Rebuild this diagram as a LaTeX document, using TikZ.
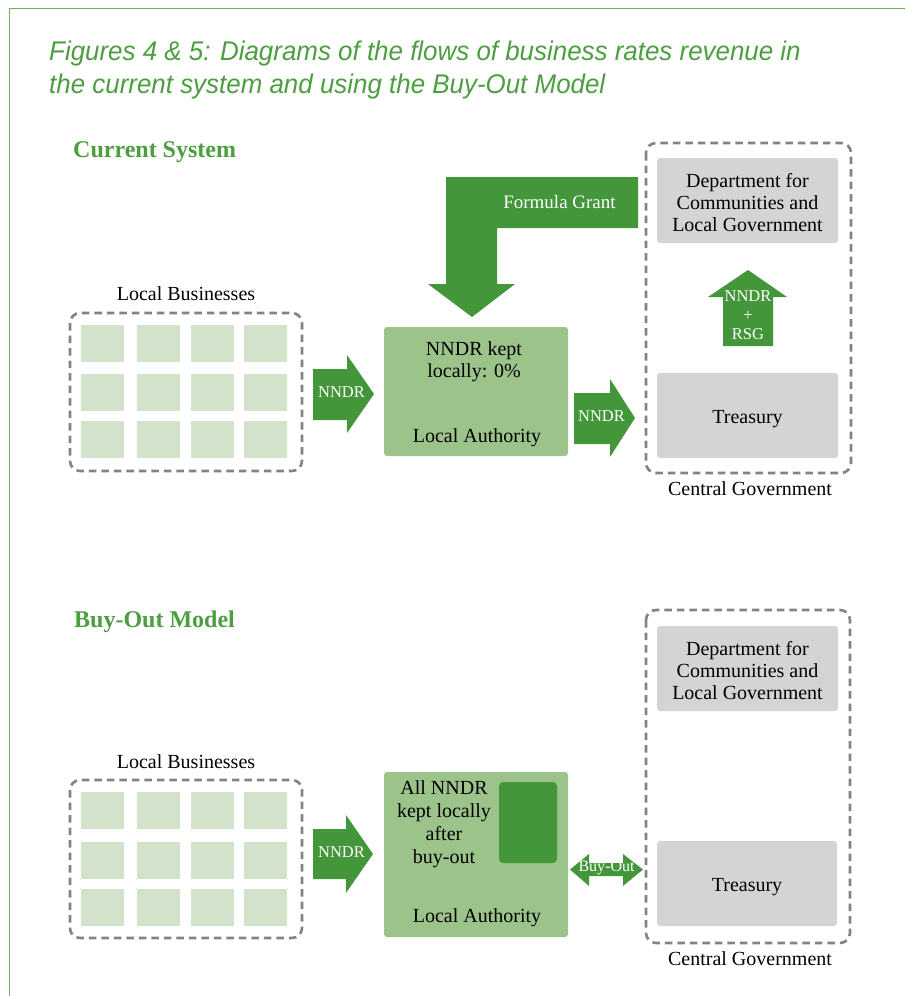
\documentclass[tikz,border=0pt]{standalone}
\usepackage{fontspec}
\setmainfont{Liberation Serif}
\newfontfamily\captionfont[FakeStretch=0.96]{Liberation Sans}

\definecolor{titlegreen}{HTML}{4C9E40}
\definecolor{flowgreen}{HTML}{43963A}
\definecolor{lagreen}{HTML}{9BC38A}
\definecolor{firmgreen}{HTML}{D3E2CB}
\definecolor{govgray}{HTML}{D3D4D6}
\definecolor{dashgray}{HTML}{838385}
\definecolor{framegreen}{HTML}{6AB35C}

\tikzset{
  every node/.style={inner sep=0pt},
  body/.style={font=\fontsize{20}{22}\selectfont, align=center, anchor=base},
  flowtext/.style={text=white, font=\fontsize{16.5}{19}\selectfont, align=center},
  heading/.style={text=titlegreen, font=\fontsize{24}{28}\selectfont\bfseries, anchor=base west},
  caption/.style={text=titlegreen, font=\captionfont\itshape\fontsize{27}{33}\selectfont, anchor=base west},
  groupbox/.style={draw=dashgray, line width=2.6pt, dash pattern=on 7.5pt off 5pt, rounded corners=10pt},
  firm/.style={fill=firmgreen, minimum width=43pt, minimum height=37pt},
  laubox/.style={fill=lagreen, rounded corners=3pt},
  govbox/.style={fill=govgray, rounded corners=3pt},
  flow/.style={fill=flowgreen},
}

\begin{document}
\begin{tikzpicture}[x=1pt, y=-1pt]
    \useasboundingbox (0,0) rectangle (905,996);

    % page frame and caption
    \draw[framegreen, line width=1.2pt] (9.5,996) -- (9.5,8.5) -- (905,8.5);
    \node[caption] (cap1) at (49,60) {Figures 4 \& 5: Diagrams of the flows of business rates revenue in};
    \node[caption] (cap2) at (49,93) {the current system and using the Buy-Out Model};

    %%% current system
    \node[heading] (cs) at (73,157) {Current System};

    % local businesses
    \node[body] (lb1) at (186,300) {Local Businesses};
    \draw[groupbox] (70,313) rectangle (302,471);
    \foreach \i/\x in {0/102.5,1/158.5,2/212.5,3/265.5}
        \foreach \j/\y in {0/343.5,1/392.5,2/439.5}
            \node[firm] (firmA-\i-\j) at (\x,\y) {};

    % NNDR into the authority
    \fill[flow] (313,369) -- (347,369) -- (347,355) -- (374,394)
        -- (347,433) -- (347,420) -- (313,420) -- cycle;
    \node[flowtext] (nndrA) at (341.5,392.5) {NNDR};

    % local authority (multi-line nodes sit on their last baseline)
    \fill[laubox] (384,327) rectangle (568,456);
    \node[body] (keptA) at (474,377) {NNDR kept\\locally: 0\%};
    \node[body] (laA) at (477,442) {Local Authority};

    % NNDR out to the centre
    \fill[flow] (574,393) -- (610,393) -- (610,379) -- (635,418)
        -- (610,457) -- (610,444) -- (574,444) -- cycle;
    \node[flowtext] (nndrB) at (601.5,416.5) {NNDR};

    % central government
    \draw[groupbox] (646,143) rectangle (851,473);
    \node[body] (cgA) at (750,495) {Central Government};
    \fill[govbox] (657,158) rectangle (838,243);
    \node[body] (dclgA) at (747.5,231) {Department for\\Communities and\\Local Government};
    \fill[govbox] (657,373) rectangle (838,458);
    \node[body] (tsyA) at (747.5,423) {Treasury};

    % treasury up to the department
    \fill[flow] (723,346) -- (723,297) -- (708,297) -- (748,270)
        -- (787,297) -- (773,297) -- (773,346) -- cycle;
    \node[flowtext, anchor=base] (rsg) at (748,339) {NNDR\\+\\RSG};

    % formula grant back down
    \fill[flow] (638,177) -- (446,177) -- (446,284) -- (428,284) -- (472,317)
        -- (515,284) -- (497,284) -- (497,228) -- (638,228) -- cycle;
    \node[flowtext, font=\fontsize{19}{22}\selectfont, anchor=base] (fg) at (559.5,208) {Formula Grant};

    %%% buy-out model
    \node[heading] (bo) at (74,627) {Buy-Out Model};

    % local businesses
    \node[body] (lb2) at (186,768) {Local Businesses};
    \draw[groupbox] (70,780) rectangle (302,938);
    \foreach \i/\x in {0/102.5,1/158.5,2/212.5,3/265.5}
        \foreach \j/\y in {0/810,1/860.5,2/907.5}
            \node[firm] (firmB-\i-\j) at (\x,\y) {};

    % NNDR into the authority
    \fill[flow] (313,829) -- (346,829) -- (346,815) -- (373,854)
        -- (346,893) -- (346,879) -- (313,879) -- cycle;
    \node[flowtext] (nndrC) at (341.5,852.5) {NNDR};

    % local authority, keeping everything
    \fill[laubox] (384,772) rectangle (568,937);
    \fill[flow, rounded corners=4pt] (499,782) rectangle (557,863);
    \node[body, font=\fontsize{20}{22.7}\selectfont] (keptB) at (444,863) {All NNDR\\kept locally\\after\\buy-out};
    \node[body] (laB) at (477,922) {Local Authority};

    % buy-out both ways
    \fill[flow] (570,869.5) -- (589,854) -- (589,863) -- (623,863) -- (623,854)
        -- (643,869.5) -- (623,886) -- (623,876) -- (589,876) -- (589,886) -- cycle;
    \node[flowtext, font=\fontsize{16}{19}\selectfont] (buyout) at (606.5,868) {Buy-Out};

    % central government
    \draw[groupbox] (646,610) rectangle (850,943);
    \node[body] (cgB) at (750,965) {Central Government};
    \fill[govbox] (657,626) rectangle (838,711);
    \node[body] (dclgB) at (747.5,699) {Department for\\Communities and\\Local Government};
    \fill[govbox] (657,841) rectangle (837,926);
    \node[body] (tsyB) at (747,891) {Treasury};
\end{tikzpicture}
\end{document}
